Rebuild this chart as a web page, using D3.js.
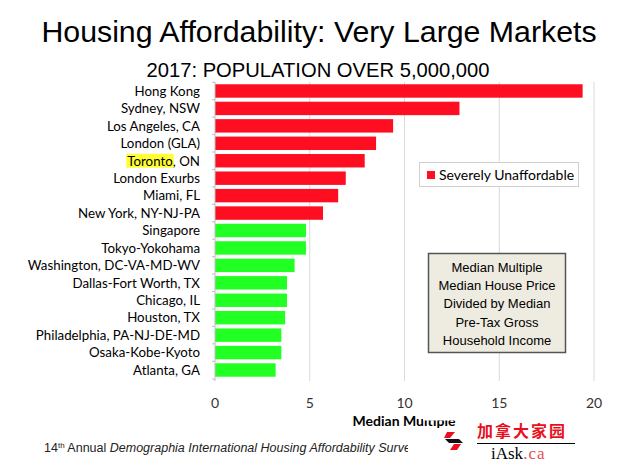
<!DOCTYPE html>
<html><head><meta charset="utf-8">
<script src="https://cdn.jsdelivr.net/npm/d3@7"></script>
<style>body{margin:0;background:#fff}svg{display:block}</style>
</head><body>
<script>
const categories = ["Hong Kong","Sydney, NSW","Los Angeles, CA ","London (GLA)","Toronto, ON","London Exurbs","Miami, FL","New York, NY-NJ-PA","Singapore","Tokyo-Yokohama","Washington, DC-VA-MD-WV","Dallas-Fort Worth, TX","Chicago, IL","Houston, TX","Philadelphia, PA-NJ-DE-MD","Osaka-Kobe-Kyoto","Atlanta, GA"];
const values = [19.4,12.9,9.4,8.5,7.9,6.9,6.5,5.7,4.8,4.8,4.2,3.8,3.8,3.7,3.5,3.5,3.2];
const severe = [true,true,true,true,true,true,true,true,false,false,false,false,false,false,false,false,false];
const xTicks = [0,5,10,15,20];
const noteLines = ["Median Multiple","Median House Price","Divided by Median","Pre-Tax Gross","Household Income"];

const W=640,H=471;
const svg=d3.select("body").append("svg").attr("width",W).attr("height",H);
const RED="#ff0d21", GREEN="#22ff22";
const labelFont="Lato, 'Noto Sans', sans-serif";

svg.append("text").attr("x",319).attr("y",42).attr("text-anchor","middle")
  .style("font-family","'Liberation Sans',Arial,sans-serif").style("font-size","30.3px").attr("fill","#000")
  .text("Housing Affordability: Very Large Markets");
svg.append("text").attr("x",318).attr("y",77).attr("text-anchor","middle")
  .style("font-family","'Liberation Sans',Arial,sans-serif").style("font-size","20.2px").attr("fill","#000")
  .text("2017: POPULATION OVER 5,000,000");

const x=d3.scaleLinear().domain([0,20]).range([215,594]);
const y=d3.scaleBand().domain(categories).range([82,379]).paddingInner(0.23).paddingOuter(0.13);

// gridlines
svg.append("g").selectAll("line").data(xTicks.slice(1)).join("line")
  .attr("x1",d=>x(d)).attr("x2",d=>x(d)).attr("y1",82).attr("y2",381)
  .attr("stroke","#d9d9d9").attr("stroke-width",1);

// bars
svg.append("g").selectAll("rect").data(categories).join("rect")
  .attr("x",x(0)).attr("y",d=>y(d)).attr("height",y.bandwidth())
  .attr("width",(d,i)=>x(values[i])-x(0))
  .attr("fill",(d,i)=>severe[i]?RED:GREEN);

// left axis line & ticks
svg.append("line").attr("x1",x(0)).attr("x2",x(0)).attr("y1",82).attr("y2",381).attr("stroke","#bfbfbf");
const bounds=categories.map(c=>y(c)-y.step()*y.paddingInner()/2).concat([379]);
svg.append("g").selectAll("line").data(bounds).join("line")
  .attr("x1",x(0)-3).attr("x2",x(0)).attr("y1",d=>d).attr("y2",d=>d).attr("stroke","#bfbfbf");

const ty=y("Toronto, ON")+y.bandwidth()/2;
// category labels
const lab=svg.append("g").selectAll("text").data(categories).join("text")
  .attr("x",200).attr("y",d=>y(d)+y.bandwidth()/2).attr("dy","0.36em").attr("text-anchor","end")
  .style("font-family",labelFont).style("font-size","13.3px").attr("fill","#000");
lab.each(function(d){
  const t=d3.select(this);
  if(d.startsWith("Toronto")){
    t.append("tspan").attr("class","tor").text("Toronto");
    t.append("tspan").text(", ON");
  } else t.text(d);
});
const torNode=svg.select("tspan.tor").node();
if(torNode){
  const bb=torNode.getBBox();
  svg.insert("rect","g").attr("x",bb.x-1).attr("y",ty-7).attr("width",bb.width+2).attr("height",14).attr("fill","#ffff33");
}

// x tick labels
svg.append("g").selectAll("text").data(xTicks).join("text")
  .attr("x",d=>x(d)).attr("y",408).attr("text-anchor","middle")
  .style("font-family",labelFont).style("font-size","14px").attr("fill","#333").text(d=>d);
svg.append("text").attr("x",404).attr("y",426).attr("text-anchor","middle")
  .style("font-family",labelFont).style("font-size","14px").style("font-weight","bold").attr("fill","#000")
  .text("Median Multiple");
svg.append("rect").attr("x",423).attr("y",413).attr("width",217).attr("height",7.5).attr("fill","#fff");

// legend
svg.append("rect").attr("x",419.5).attr("y",162.5).attr("width",159).attr("height",24).attr("fill","#fff").attr("stroke","#d0d0d0");
svg.append("rect").attr("x",427).attr("y",171).attr("width",8).attr("height",8).attr("fill",RED);
svg.append("text").attr("x",439).attr("y",175).attr("dy","0.36em")
  .style("font-family",labelFont).style("font-size","14px").attr("fill","#000").text("Severely Unaffordable");

// note box
svg.append("rect").attr("x",428.5).attr("y",253.5).attr("width",137).attr("height",99).attr("fill","#eeece1").attr("stroke","#555").attr("stroke-width",1.5);
svg.append("g").selectAll("text").data(noteLines).join("text")
  .attr("x",497).attr("y",(d,i)=>267+i*18.3).attr("dy","0.36em").attr("text-anchor","middle")
  .style("font-family","'Liberation Sans',Arial,sans-serif").style("font-size","13px").attr("fill","#000").text(d=>d);

// footer
const ft=svg.append("text").attr("x",44).attr("y",452)
  .style("font-family","'Liberation Sans',Arial,sans-serif").style("font-size","12.5px").attr("fill","#222");
ft.append("tspan").text("14");
ft.append("tspan").attr("dy","-4").style("font-size","8px").text("th");
ft.append("tspan").attr("dy","4").text(" Annual ");
ft.append("tspan").style("font-style","italic").text("Demographia International Housing Affordability Survey");
svg.append("rect").attr("x",408).attr("y",430).attr("width",232).attr("height",41).attr("fill","#fff");

// watermark logo
const lg=svg.append("g");
lg.append("path").attr("d","M447,432 L455,432 L450,438 L444,438 Z").attr("fill","#e8101e");
lg.append("path").attr("d","M445,439 L452,439 L456,443 L449,443 Z M452,439 L459,439 L463,443 L456,443 Z").attr("fill","#111");
lg.append("path").attr("d","M454,444 L461,444 L457,450 L450,450 Z").attr("fill","#e8101e");
lg.append("text").attr("x",522).attr("y",437).attr("text-anchor","middle")
  .style("font-family","'Noto Sans CJK SC',sans-serif").style("font-size","16px").style("font-weight","bold").attr("fill","#e8101e")
  .attr("letter-spacing","2").text("加拿大家园");
lg.append("line").attr("x1",477).attr("x2",575).attr("y1",443.5).attr("y2",443.5).attr("stroke","#000");
const it=lg.append("text").attr("x",491).attr("y",459).style("font-family","'Liberation Serif','DejaVu Serif',serif").style("font-size","17px");
it.append("tspan").attr("fill","#000").text("iAsk");
it.append("tspan").attr("fill","#e8505a").attr("letter-spacing","1").text(".ca");
</script>
</body></html>
